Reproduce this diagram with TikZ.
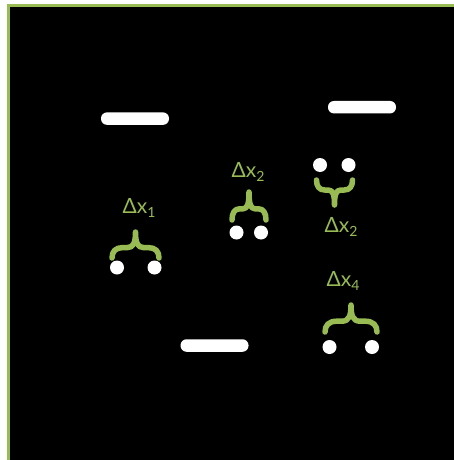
\documentclass[tikz,border=0pt]{standalone}
\usepackage{fontspec}
\setmainfont{Lato}
\definecolor{ogreen}{RGB}{152,187,84}
\tikzset{
  bracestyle/.style={draw=ogreen, line width=5.5pt, line cap=round, line join=round},
  dotnode/.style={circle, fill=white, draw=none, minimum size=14pt, inner sep=0pt},
  barnode/.style={rectangle, rounded corners=6pt, fill=white, draw=none, minimum width=68pt, minimum height=12.5pt, inner sep=0pt},
  lbl/.style={text=ogreen, inner sep=0pt, font=\fontsize{21}{24}\selectfont}
}
\newcommand\sbx[1]{\raisebox{-0.35ex}{\fontsize{14}{14}\selectfont #1}}
% cx, base y, half width, height (negative = up)
\newcommand\curly[4]{%
  \draw[bracestyle] ({#1-#3},#2)
    .. controls ({#1-#3},{#2+0.25*(#4)}) and ({#1-0.85*#3},{#2+0.4*(#4)}) .. ({#1-0.55*#3},{#2+0.4*(#4)})
    -- ({#1-0.35*#3},{#2+0.4*(#4)})
    .. controls ({#1-0.08*#3},{#2+0.4*(#4)}) and (#1,{#2+0.6*(#4)}) .. (#1,{#2+(#4)})
    .. controls (#1,{#2+0.6*(#4)}) and ({#1+0.08*#3},{#2+0.4*(#4)}) .. ({#1+0.35*#3},{#2+0.4*(#4)})
    -- ({#1+0.55*#3},{#2+0.4*(#4)})
    .. controls ({#1+0.85*#3},{#2+0.4*(#4)}) and ({#1+#3},{#2+0.25*(#4)}) .. ({#1+#3},#2);}
\begin{document}
\begin{tikzpicture}[x=1pt,y=-1pt]
\useasboundingbox (0,0) rectangle (454,460);
\clip (0,0) rectangle (454,460);
\fill[white] (0,0) rectangle (454,460);
\draw[ogreen, line width=2.7pt, fill=black] (8.5,5.5) rectangle (470,480);
% bars
\node[barnode] (bar1) at (135,118.6) {};
\node[barnode] (bar2) at (362,107.2) {};
\node[barnode] (bar3) at (214.5,345.5) {};
% group 1
\curly{135.5}{258}{23.5}{-26}
\node[dotnode] (d1a) at (117,267.5) {};
\node[dotnode] (d1b) at (154.5,267.5) {};
\node[lbl] (l1) at (139,208) {Δx\sbx{1}};
% group 2
\curly{249}{220}{17}{-28}
\node[dotnode] (d2a) at (236.5,232.5) {};
\node[dotnode] (d2b) at (261,232.5) {};
\node[lbl] (l2) at (248,172) {Δx\sbx{2}};
% group 3
\curly{334.5}{180}{18}{25}
\node[dotnode] (d3a) at (320,165) {};
\node[dotnode] (d3b) at (348.5,165) {};
\node[lbl] (l3) at (341,227) {Δx\sbx{2}};
% group 4
\curly{351}{332}{26}{-27}
\node[dotnode] (d4a) at (329.5,347) {};
\node[dotnode] (d4b) at (372,347) {};
\node[lbl] (l4) at (343,281) {Δx\sbx{4}};
\end{tikzpicture}
\end{document}
